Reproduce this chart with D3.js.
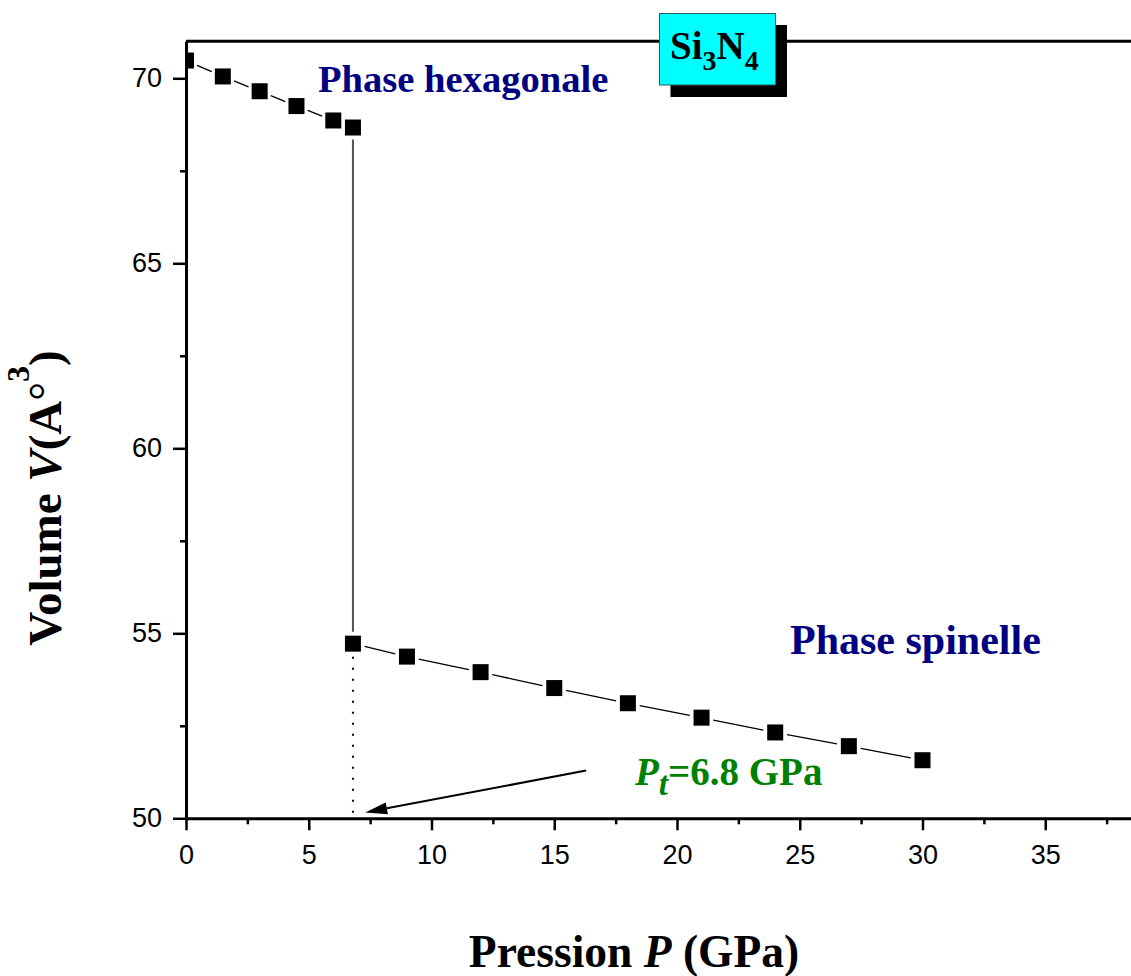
<!DOCTYPE html>
<html>
<head>
<meta charset="utf-8">
<script src="https://cdn.jsdelivr.net/npm/d3@7"></script>
<style>
  body { margin: 0; background: #fff; }
  svg { display: block; }
</style>
</head>
<body>
<svg id="chart" width="1131" height="976"></svg>
<script>
// Si3N4 equation of state: volume vs pressure, hexagonal and spinel phases
const hexP = [0, 1.5, 3, 4.5, 6, 6.8];
const hexV = [70.48, 70.05, 69.65, 69.25, 68.86, 68.67];
const spiP = [6.8, 9, 12, 15, 18, 21, 24, 27, 30];
const spiV = [54.72, 54.37, 53.95, 53.52, 53.11, 52.72, 52.32, 51.95, 51.57];
const xTicks = [0, 5, 10, 15, 20, 25, 30, 35];
const xMinor = [2.5, 7.5, 12.5, 17.5, 22.5, 27.5, 32.5, 37.5];
const yTicks = [50, 55, 60, 65, 70];
const yMinor = [52.5, 57.5, 62.5, 67.5];
const transitionP = 6.8;
// annotation arrow (data coordinates): from label towards transition pressure
const arrowFrom = [16.3, 51.29];
const arrowTo = [7.3, 50.16];

const svg = d3.select("#chart");
const plotLeft = 186, plotBottom = 818.3, plotTop = 41.3;
const x = d3.scaleLinear().domain([0, 40]).range([plotLeft, plotLeft + 40 * 24.55]);
const y = d3.scaleLinear().domain([50, 71]).range([plotBottom, plotTop]);

const serif = "'Liberation Serif', 'Times New Roman', Times, serif";
const sans = "'Liberation Sans', Arial, Helvetica, sans-serif";

svg.append("defs").append("clipPath").attr("id", "plotClip")
  .append("rect").attr("x", plotLeft).attr("y", 0).attr("width", 1131 - plotLeft).attr("height", plotBottom + 2);

// top frame line
svg.append("line").attr("x1", plotLeft).attr("x2", 1131).attr("y1", plotTop).attr("y2", plotTop)
  .attr("stroke", "#000").attr("stroke-width", 3);

// axes
function styleAxis(g) {
  g.select(".domain").attr("stroke", "#000").attr("stroke-width", 3);
  g.selectAll(".tick line").attr("stroke", "#000").attr("stroke-width", 2.5);
  g.selectAll(".tick text").attr("font-family", sans).attr("font-size", 27).attr("fill", "#000");
}
const gx = svg.append("g").attr("transform", `translate(0,${plotBottom})`)
  .call(d3.axisBottom(x).tickValues(xTicks).tickSize(12).tickPadding(15).tickSizeOuter(0).tickFormat(d3.format("d")));
styleAxis(gx);
const gxm = svg.append("g").attr("transform", `translate(0,${plotBottom})`)
  .call(d3.axisBottom(x).tickValues(xMinor).tickSize(6).tickSizeOuter(0).tickFormat(""));
styleAxis(gxm);
gxm.select(".domain").remove();

const gy = svg.append("g").attr("transform", `translate(${plotLeft},0)`)
  .call(d3.axisLeft(y).tickValues(yTicks).tickSize(13).tickPadding(11).tickSizeOuter(0).tickFormat(d3.format("d")));
styleAxis(gy);
const gym = svg.append("g").attr("transform", `translate(${plotLeft},0)`)
  .call(d3.axisLeft(y).tickValues(yMinor).tickSize(6).tickSizeOuter(0).tickFormat(""));
styleAxis(gym);
gym.select(".domain").remove();

// connecting segments with gaps around the markers
const plot = svg.append("g").attr("clip-path", "url(#plotClip)");
const gap = 12;
function drawSegments(ps, vs, color, width) {
  for (let i = 0; i < ps.length - 1; i++) {
    const x1 = x(ps[i]), y1 = y(vs[i]), x2 = x(ps[i + 1]), y2 = y(vs[i + 1]);
    const len = Math.hypot(x2 - x1, y2 - y1);
    if (len <= 2 * gap + 1) continue;
    const ux = (x2 - x1) / len, uy = (y2 - y1) / len;
    plot.append("line")
      .attr("x1", x1 + ux * gap).attr("y1", y1 + uy * gap)
      .attr("x2", x2 - ux * gap).attr("y2", y2 - uy * gap)
      .attr("stroke", color).attr("stroke-width", width);
  }
}
drawSegments(hexP, hexV, "#000", 1.3);
drawSegments(spiP, spiV, "#000", 1.3);
// phase transition jump
drawSegments([hexP[hexP.length - 1], spiP[0]], [hexV[hexV.length - 1], spiV[0]], "#555", 2);

// dotted drop line to the pressure axis
plot.append("line")
  .attr("x1", x(transitionP)).attr("x2", x(transitionP))
  .attr("y1", y(spiV[0]) + 13).attr("y2", y(50))
  .attr("stroke", "#000").attr("stroke-width", 2).attr("stroke-dasharray", "2,9");

// square markers
const ms = 16;
const pts = hexP.map((p, i) => [p, hexV[i]]).concat(spiP.map((p, i) => [p, spiV[i]]));
plot.selectAll("rect.pt").data(pts).join("rect").attr("class", "pt")
  .attr("x", d => x(d[0]) - ms / 2).attr("y", d => y(d[1]) - ms / 2)
  .attr("width", ms).attr("height", ms).attr("fill", "#000");

// arrow
const ax1 = x(arrowFrom[0]), ay1 = y(arrowFrom[1]), ax2 = x(arrowTo[0]), ay2 = y(arrowTo[1]);
const alen = Math.hypot(ax2 - ax1, ay2 - ay1);
const aux = (ax2 - ax1) / alen, auy = (ay2 - ay1) / alen;
const headL = 22, headW = 6;
const bx = ax2 - aux * headL, by = ay2 - auy * headL;
svg.append("line").attr("x1", ax1).attr("y1", ay1).attr("x2", bx).attr("y2", by)
  .attr("stroke", "#000").attr("stroke-width", 2);
svg.append("path")
  .attr("d", `M${ax2},${ay2} L${bx - auy * headW},${by + aux * headW} L${bx + auy * headW},${by - aux * headW} Z`)
  .attr("fill", "#000");

// phase labels
svg.append("text").attr("x", 318).attr("y", 91.5)
  .attr("font-family", serif).attr("font-weight", "bold").attr("font-size", 38.6).attr("fill", "#000080")
  .text("Phase hexagonale");
svg.append("text").attr("x", 790).attr("y", 653.5)
  .attr("font-family", serif).attr("font-weight", "bold").attr("font-size", 42).attr("fill", "#000080")
  .text("Phase spinelle");

// transition pressure label
const pt = svg.append("text").attr("x", 635).attr("y", 785)
  .attr("font-family", serif).attr("font-weight", "bold").attr("font-size", 39).attr("fill", "#008000");
pt.append("tspan").attr("font-style", "italic").text("P");
pt.append("tspan").attr("font-style", "italic").attr("font-size", 33).attr("dy", 10).text("t");
pt.append("tspan").attr("dy", -10).text("=6.8 GPa");

// compound box with shadow
svg.append("rect").attr("x", 670.5).attr("y", 25).attr("width", 116.5).attr("height", 72).attr("fill", "#000");
svg.append("rect").attr("x", 659.5).attr("y", 13.5).attr("width", 116).attr("height", 71.5)
  .attr("fill", "#00ffff").attr("stroke", "#2a5a5a").attr("stroke-width", 1);
const comp = svg.append("text").attr("x", 670).attr("y", 58.5)
  .attr("font-family", serif).attr("font-weight", "bold").attr("font-size", 39).attr("fill", "#000");
comp.append("tspan").text("Si");
comp.append("tspan").attr("font-size", 28).attr("dy", 11).text("3");
comp.append("tspan").attr("dy", -11).text("N");
comp.append("tspan").attr("font-size", 28).attr("dy", 11).text("4");

// axis titles
const xt = svg.append("text").attr("x", 634).attr("y", 967).attr("text-anchor", "middle")
  .attr("font-family", serif).attr("font-weight", "bold").attr("font-size", 45.5).attr("fill", "#000");
xt.append("tspan").text("Pression ");
xt.append("tspan").attr("font-style", "italic").text("P");
xt.append("tspan").text(" (GPa)");

const yt = svg.append("text").attr("transform", "translate(61,498) rotate(-90)").attr("text-anchor", "middle")
  .attr("font-family", serif).attr("font-weight", "bold").attr("font-size", 47).attr("fill", "#000");
yt.append("tspan").text("Volume ");
yt.append("tspan").attr("font-style", "italic").text("V");
yt.append("tspan").text("(A");
yt.append("tspan").attr("font-weight", "normal").text("°");
yt.append("tspan").attr("font-size", 32).attr("dy", -32).text("3");
yt.append("tspan").attr("dy", 32).text(")");
</script>
</body>
</html>
